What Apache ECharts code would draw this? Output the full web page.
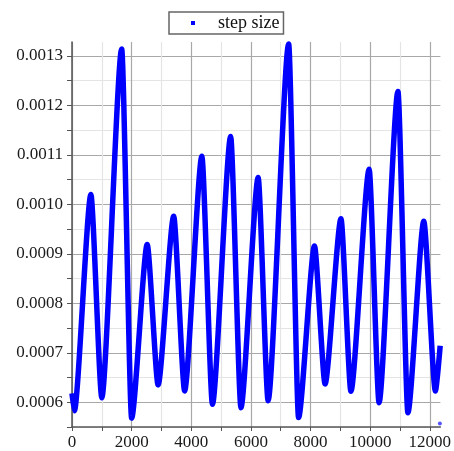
<!DOCTYPE html>
<html>
<head>
<meta charset="utf-8">
<script src="https://cdn.jsdelivr.net/npm/echarts@6/dist/echarts.min.js"></script>
<style>
html,body{margin:0;padding:0;background:#fff;}
#chart{width:454px;height:451px;}
</style>
</head>
<body>
<div id="chart"></div>
<script>
// step index (x) and step size (y) at local extrema
const stepIndex = [0, 80, 633, 1000, 1667, 2000, 2522, 2889, 3411, 3778, 4356, 4711, 5322, 5667,
  6244, 6578, 7267, 7600, 8133, 8489, 9022, 9356, 9967, 10300, 10933, 11267, 11800, 12189, 12350];
const stepSize = [0.000618, 0.000583, 0.00102, 0.000609, 0.001314, 0.000568, 0.000919, 0.000635,
  0.000976, 0.000623, 0.001097, 0.000596, 0.001137, 0.000589, 0.001054, 0.000603, 0.001324,
  0.000569, 0.000916, 0.000637, 0.000971, 0.000622, 0.001071, 0.000599, 0.001228, 0.000579,
  0.000966, 0.000623, 0.000714];
// isolated final point
const lastIndex = [12340];
const lastSize = [0.000557];
const seriesName = 'step size';

const curve = stepIndex.map((x, i) => [x, stepSize[i]]);
const lone = lastIndex.map((x, i) => [x, lastSize[i]]);

const font = 'Liberation Serif';
const chart = echarts.init(document.getElementById('chart'), null, {renderer: 'canvas'});
chart.setOption({
  animation: false,
  backgroundColor: '#ffffff',
  grid: {left: 72, right: 11, top: 42, bottom: 23.5, containLabel: false},
  legend: {
    left: 169, top: 12,
    data: [{name: seriesName, icon: 'rect'}],
    itemWidth: 4, itemHeight: 4,
    padding: [2, 4, 2, 22],
    borderColor: '#666', borderWidth: 1.5,
    textStyle: {fontFamily: font, fontSize: 18, color: '#111', padding: [0, 0, 0, 18]}
  },
  xAxis: {
    type: 'value', min: 0, max: 12357, interval: 1000,
    axisLine: {show: true, onZero: false, lineStyle: {color: '#555', width: 1.5}},
    axisTick: {show: true, length: 4, lineStyle: {color: '#555', width: 1}},
    axisLabel: {
      fontFamily: font, fontSize: 17, color: '#1a1a1a', margin: 7,
      showMaxLabel: false,
      formatter: v => (Math.round(v) % 2000 === 0 ? String(Math.round(v)) : '')
    },
    splitLine: {show: true, showMaxLine: false, lineStyle: {color: ['#a8a8a8', '#e4e4e4'], width: 1.2}}
  },
  yAxis: {
    type: 'value', min: 0.00055, max: 0.001328, interval: 0.00005,
    axisLine: {show: true, onZero: false, lineStyle: {color: '#555', width: 1.5}},
    axisTick: {show: true, length: 5, lineStyle: {color: '#555', width: 1}},
    axisLabel: {
      fontFamily: font, fontSize: 17, color: '#1a1a1a', margin: 9,
      showMaxLabel: false,
      formatter: v => {
        const k = v * 10000;
        return Math.abs(k - Math.round(k)) < 1e-6 ? v.toFixed(4) : '';
      }
    },
    splitLine: {show: true, showMaxLine: false, lineStyle: {color: ['#e4e4e4', '#a8a8a8'], width: 1.2}}
  },
  series: [
    {
      name: seriesName, type: 'line', data: curve,
      smooth: 0.22, smoothMonotone: 'x',
      showSymbol: false, symbol: 'rect', symbolSize: 4,
      itemStyle: {color: '#0000ff'},
      lineStyle: {color: '#0000ff', width: 5.5},
      clip: true
    },
    {
      name: seriesName, type: 'scatter', data: lone,
      symbol: 'circle', symbolSize: 4,
      itemStyle: {color: '#2a2aff'}
    }
  ]
});
</script>
</body>
</html>
